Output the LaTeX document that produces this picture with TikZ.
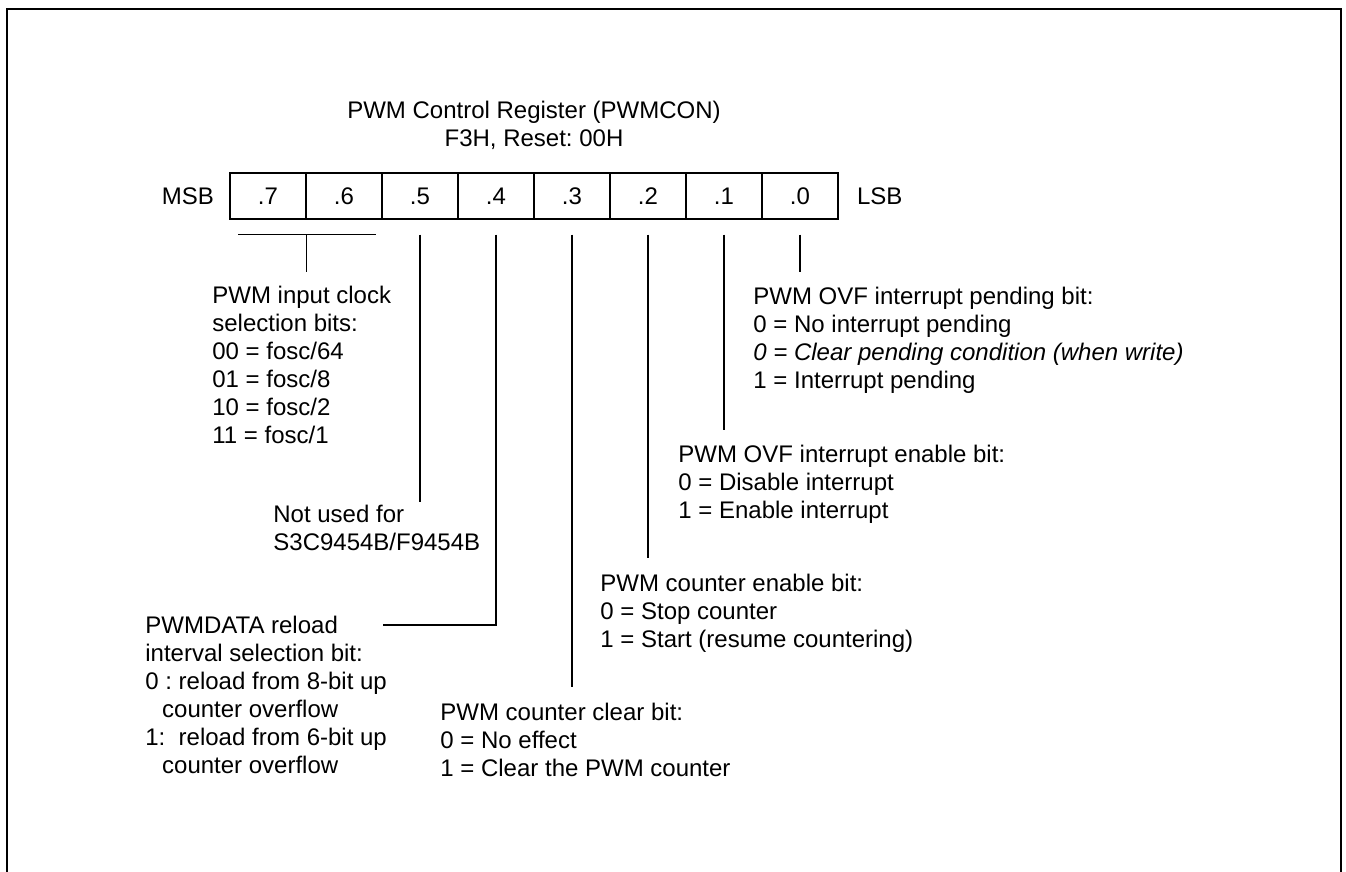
\documentclass[tikz,border=0pt]{standalone}
\usepackage{fontspec}
\setmainfont{Liberation Sans}
\usetikzlibrary{positioning,calc}
\frenchspacing

\tikzset{
    bitcell/.style={draw,line width=0.6pt,minimum width=38pt,minimum height=23pt,inner sep=0pt},
    note/.style={anchor=north west,align=left,inner sep=0pt},
    lead/.style={line width=0.6pt}
}

\begin{document}
\begin{tikzpicture}[x=0.5pt,y=-0.5pt,font=\fontsize{12}{14}\selectfont]
        \useasboundingbox (0,0) rectangle (1346,872);
        \draw[line width=1.3pt] (7,872) -- (7,9) -- (1341,9) -- (1341,872);

        \node[align=center,anchor=north,inner sep=0pt] (title) at (534,101) {PWM Control Register (PWMCON)\\F3H, Reset: 00H};

        \foreach \b [count=\i from 0] in {7,6,...,0} {
            \node[bitcell] (b\b) at (268+76*\i,196) {.\b};
        }
        \node[left=7.5pt of b7,inner sep=0pt] (msb) {MSB};
        \node[right=9pt of b0,inner sep=0pt] (lsb) {LSB};

        \node[note] (clock) at (212,286) {PWM input clock\\selection bits:\\00 = fosc/64\\01 = fosc/8\\10 = fosc/2\\11 = fosc/1};
        \node[note] (notused) at (273,505) {Not used for\\S3C9454B/F9454B};
        \node[note] (reload) at (145,616) {PWMDATA reload\\interval selection bit:\\0 : reload from 8-bit up\\\hspace*{0.7em}counter overflow\\1:\ \ reload from 6-bit up\\\hspace*{0.7em}counter overflow};
        \node[note] (clear) at (440,703) {PWM counter clear bit:\\0 = No effect\\1 = Clear the PWM counter};
        \node[note] (cnten) at (600,574) {PWM counter enable bit:\\0 = Stop counter\\1 = Start (resume countering)};
        \node[note] (ovfen) at (678,445) {PWM OVF interrupt enable bit:\\0 = Disable interrupt\\1 = Enable interrupt};
        \node[note] (ovfpend) at (753,287) {PWM OVF interrupt pending bit:\\0 = No interrupt pending\\\textit{0 = Clear pending condition (when write)}\\1 = Interrupt pending};
        \coordinate (reloadtip) at (383,625);

        % bits .7/.6
        \draw[lead] ($(b7.south)+(-30,15)$) -- ($(b6.south)+(32,15)$);
        \draw[lead] ($(b7.south east)+(0,15)$) -- ($(b7.south east |- clock.north)+(0,-14)$);
        % single bits
        \draw[lead] ($(b5.south)+(0,15)$) -- ($(b5.south |- notused.north)+(0,-3)$);
        \draw[lead] ($(b4.south)+(0,15)$) |- (reloadtip);
        \draw[lead] ($(b3.south)+(0,15)$) -- ($(b3.south |- clear.north)+(0,-16)$);
        \draw[lead] ($(b2.south)+(0,15)$) -- ($(b2.south |- cnten.north)+(0,-16)$);
        \draw[lead] ($(b1.south)+(0,15)$) -- ($(b1.south |- ovfen.north)+(0,-15)$);
        \draw[lead] ($(b0.south)+(0,15)$) -- ($(b0.south |- ovfpend.north)+(0,-15)$);
    \end{tikzpicture}
\end{document}
